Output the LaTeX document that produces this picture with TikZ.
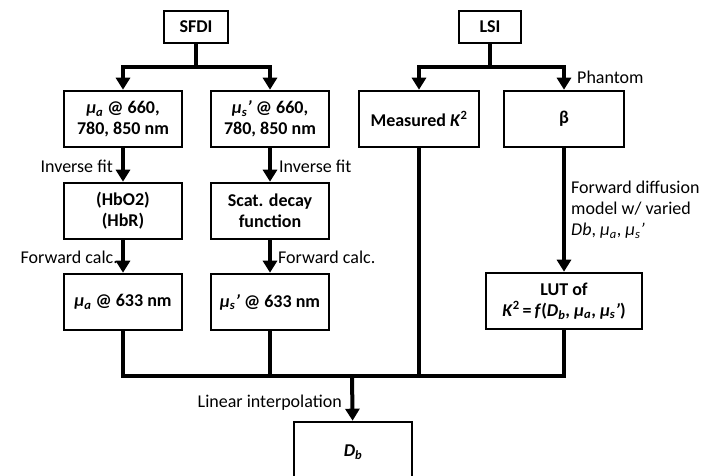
\documentclass[tikz,border=0pt]{standalone}
\usepackage{fontspec}
\setmainfont{Carlito}
\usetikzlibrary{arrows.meta}
\begin{document}
\begin{tikzpicture}[x=1pt, y=-1pt, font=\fontsize{18}{21}\selectfont,
 box/.style={draw, line width=2.6pt, font=\fontsize{18}{21}\selectfont\bfseries, align=center, inner sep=0pt, minimum height=56pt},
 link/.style={line width=4pt},
 arr/.style={link, -{Triangle[length=12pt,width=14pt]}},
 lbl/.style={inner sep=1pt}]
 \clip (0,0) rectangle (706,476);
 \node[box, minimum width=64pt, minimum height=32pt] (sfdi) at (196,27) {SFDI};
 \node[box, minimum width=62pt, minimum height=32pt] (lsi) at (490,27) {LSI};
 \node[box, minimum width=118pt] (mua) at (123,119) {\textit{μ\textsubscript{a}} @ 660,\\780, 850 nm};
 \node[box, minimum width=118pt] (mus) at (270,119) {\textit{μ\textsubscript{s}’} @ 660,\\780, 850 nm};
 \node[box, minimum width=120pt] (meas) at (419,119) {Measured \textit{K}\textsuperscript{2}};
 \node[box, minimum width=120pt] (beta) at (564,119) {β};
 \node[box, minimum width=118pt] (hb) at (123,211) {(HbO2)\\(HbR)};
 \node[box, minimum width=118pt] (scat) at (270,211) {Scat. decay\\function};
 \node[box, minimum width=118pt] (mua633) at (123,302) {\textit{μ\textsubscript{a}} @ 633 nm};
 \node[box, minimum width=118pt] (mus633) at (270,302) {\textit{μ\textsubscript{s}’} @ 633 nm};
 \node[box, minimum width=156pt] (lut) at (564,301) {LUT of\\\textit{K}\textsuperscript{2}\,=\,\textit{f}(\textit{D\textsubscript{b}}, \textit{μ\textsubscript{a}}, \textit{μ\textsubscript{s}’})};
 \node[box, minimum width=118pt, minimum height=60pt] (db) at (353,452) {\textit{D\textsubscript{b}}};
 \coordinate (sfdisplit) at (196,67);
 \coordinate (lsisplit) at (490,67);
 \coordinate (merge) at (352,376);
 \draw[link] (sfdi) -- (sfdisplit);
 \draw[link] (lsi) -- (lsisplit);
 \foreach \a/\b in {sfdisplit/mua, sfdisplit/mus, lsisplit/meas, lsisplit/beta}
  \draw[arr] (\a) -| (\b);
 \foreach \a/\b in {mua/hb, hb/mua633, mus/scat, scat/mus633, beta/lut}
  \draw[arr] (\a) -- (\b);
 \foreach \n in {mua633, mus633, meas, lut}
  \draw[link] (\n) |- (merge);
 \draw[arr] (merge) -- (db);
 \node[lbl, anchor=east] (inv1) at (114,166) {Inverse fit};
 \node[lbl, anchor=west] (inv2) at (278,166) {Inverse fit};
 \node[lbl, anchor=east] (fwd1) at (119,257) {Forward calc.};
 \node[lbl, anchor=west] (fwd2) at (277,257) {Forward calc.};
 \node[lbl, anchor=west] (phantom) at (576,77) {Phantom};
 \node[lbl, anchor=west, align=left] (fdm) at (570,210) {Forward diffusion\\model w/ varied\\\textit{Db}, \textit{μ\textsubscript{a}}, \textit{μ\textsubscript{s}’}};
 \node[lbl, anchor=east] (linint) at (343,403) {Linear interpolation};
\end{tikzpicture}
\end{document}
